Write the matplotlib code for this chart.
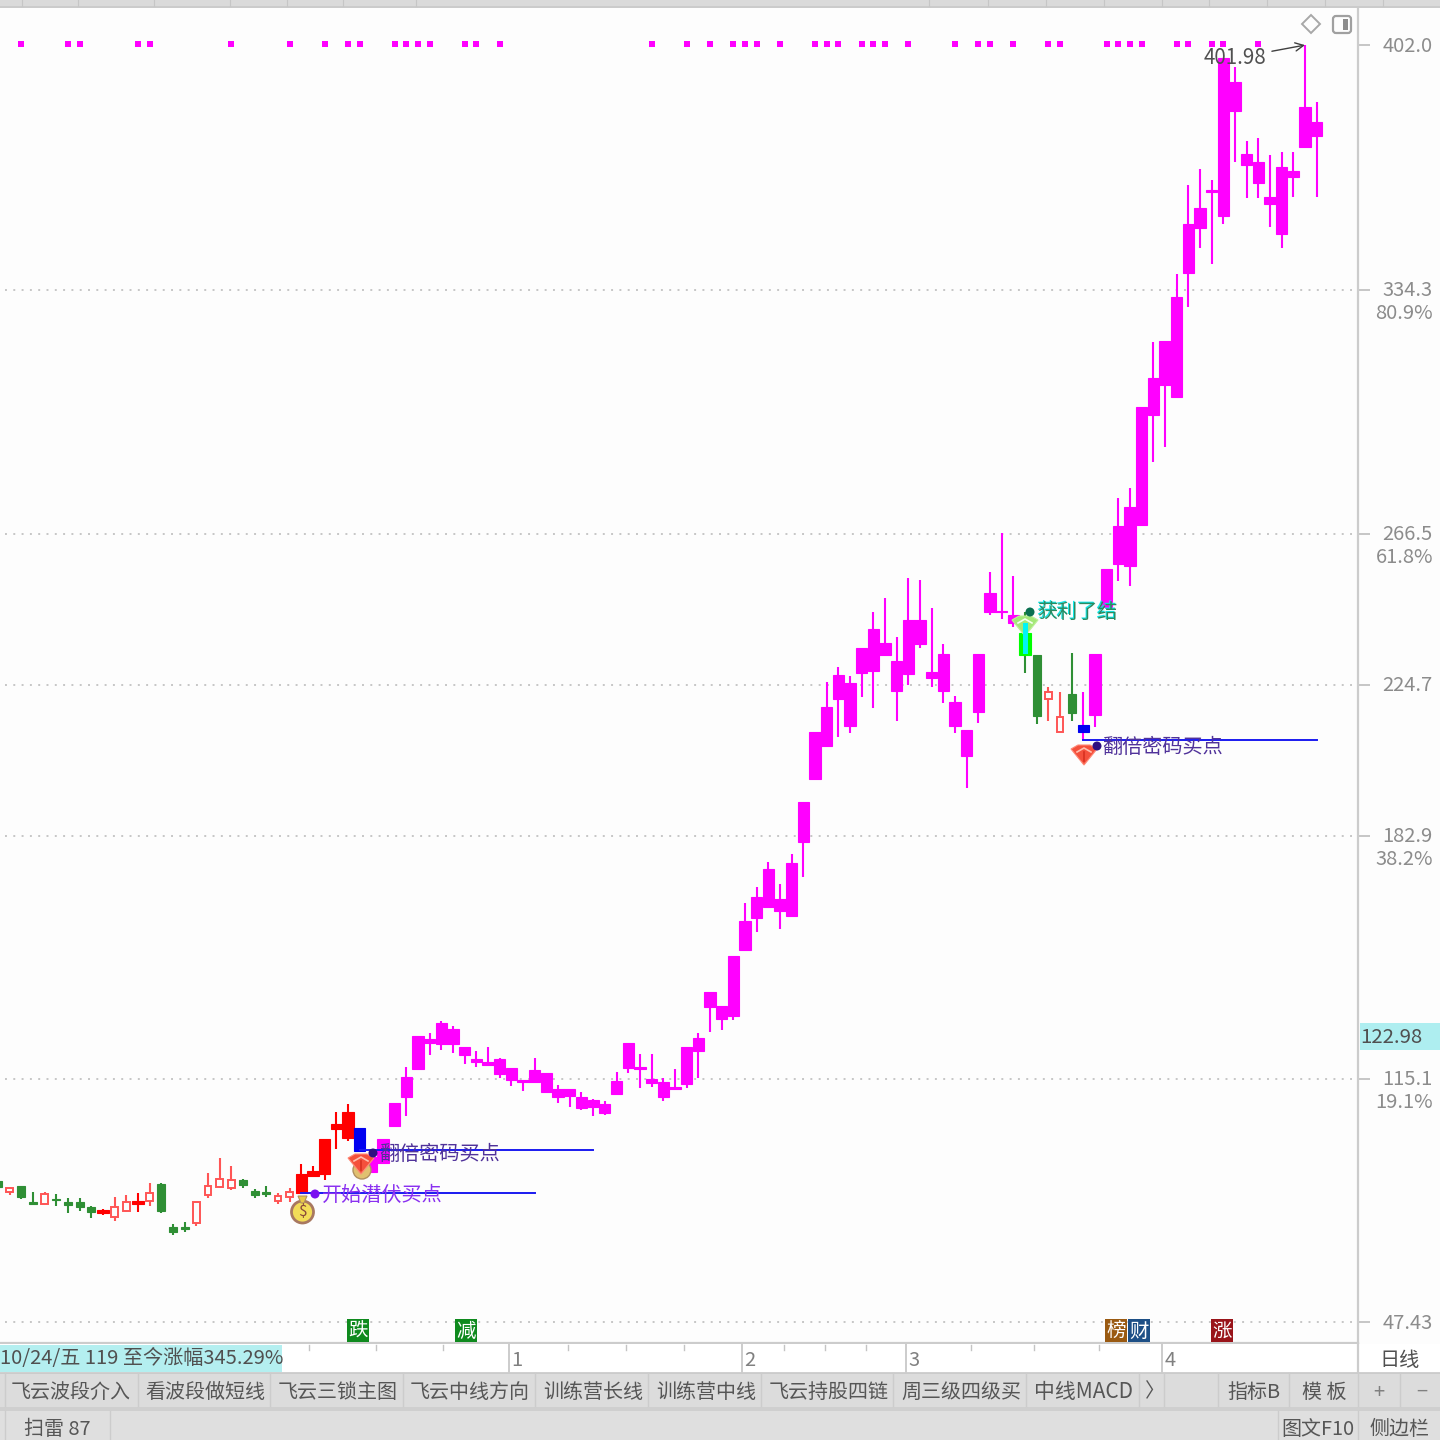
import matplotlib
matplotlib.use("Agg")
import matplotlib.pyplot as plt
from matplotlib.patches import Rectangle, Polygon, Circle, FancyBboxPatch
from matplotlib.transforms import ScaledTranslation

plt.rcParams['font.family'] = ['Noto Sans CJK SC', 'DejaVu Sans']

# ---- candles (price) ----
kinds = list("ghgghggggrhhrh" "ggg" "hhhh" "ggg" "hh" "rrrrr" "b") + ["m"] * 56 + list("lghhgb") + ["m"] * 20
body_hi = [86.6, 84.6, 85.2, 80.8, 83.0, 81.6, 80.8, 80.8, 79.4, 78.5,
           79.4, 80.8, 81.0, 83.3, 85.7, 73.8, 73.8, 80.8, 85.2, 87.1,
           86.9, 86.9, 83.8, 83.5, 82.4, 83.5, 88.5, 89.4, 98.3, 102.4,
           105.7, 101.3, 93.2, 98.3, 108.2, 115.5, 126.8, 126.0, 130.5, 128.8,
           123.8, 120.5, 119.6, 120.5, 118.0, 114.6, 117.4, 116.6, 112.1, 112.1,
           109.9, 109.1, 107.9, 114.3, 124.9, 118.2, 114.9, 114.1, 112.7, 123.8,
           126.3, 139.1, 135.2, 149.1, 158.8, 165.4, 173.2, 164.9, 174.9, 191.8,
           211.3, 218.2, 227.1, 224.9, 234.6, 239.9, 236.0, 231.0, 242.4, 242.4,
           227.9, 232.9, 219.6, 211.8, 232.9, 249.8, 244.9, 243.7, 238.7, 232.6,
           222.4, 215.4, 221.8, 213.2, 232.9, 256.5, 268.5, 273.7, 301.5, 309.5,
           319.8, 332.0, 352.3, 356.7, 361.7, 398.4, 391.7, 371.7, 369.5, 359.8,
           368.1, 367.0, 384.8, 380.6]
body_lo = [84.9, 83.5, 82.1, 80.3, 80.2, 81.3, 79.9, 79.4, 78.0, 77.7,
           76.6, 78.3, 80.2, 81.0, 78.3, 72.4, 73.3, 74.9, 82.7, 84.9,
           84.6, 85.5, 82.7, 83.0, 81.0, 82.1, 83.3, 88.0, 88.5, 101.0,
           98.5, 94.9, 89.1, 91.6, 101.9, 109.9, 117.7, 124.9, 124.6, 124.6,
           121.6, 119.6, 118.8, 116.3, 114.6, 114.1, 114.1, 111.3, 109.9, 110.2,
           106.8, 107.1, 105.5, 110.7, 118.0, 117.7, 113.8, 109.9, 112.1, 113.5,
           122.7, 134.9, 131.6, 132.4, 150.7, 159.6, 162.7, 161.5, 160.2, 180.7,
           198.2, 207.4, 220.4, 212.9, 227.6, 228.2, 232.6, 222.6, 227.4, 235.7,
           226.2, 222.6, 212.9, 204.6, 216.8, 244.6, 244.6, 241.5, 232.6, 215.7,
           220.4, 211.2, 216.5, 211.2, 216.0, 246.0, 257.9, 257.3, 268.7, 299.3,
           307.6, 304.3, 338.7, 351.2, 361.2, 354.5, 383.7, 368.7, 363.7, 357.9,
           349.5, 365.4, 373.7, 376.7]
wick_hi = [86.6, 84.9, 85.2, 83.5, 83.5, 83.0, 81.9, 81.9, 79.6, 78.8,
           82.1, 82.7, 83.3, 86.0, 86.0, 74.6, 75.2, 80.8, 88.8, 93.0,
           90.8, 87.1, 84.4, 85.2, 83.3, 84.6, 91.3, 90.8, 98.3, 105.7,
           108.0, 101.3, 93.2, 98.3, 108.2, 118.2, 126.8, 127.7, 131.0, 129.6,
           123.8, 122.7, 123.8, 120.7, 118.0, 114.6, 120.7, 116.6, 113.2, 112.1,
           111.3, 109.3, 108.8, 116.9, 124.9, 121.8, 121.8, 115.2, 117.7, 123.8,
           127.7, 139.1, 135.2, 149.1, 163.8, 168.2, 175.2, 169.0, 177.4, 191.8,
           211.3, 225.1, 229.3, 226.8, 234.6, 244.6, 248.5, 237.6, 254.0, 253.5,
           245.7, 235.7, 221.2, 211.8, 232.9, 255.7, 266.5, 254.6, 244.6, 232.6,
           223.7, 222.4, 233.2, 222.4, 232.9, 256.5, 276.2, 279.0, 301.5, 319.5,
           319.8, 338.4, 363.1, 367.6, 364.5, 398.4, 395.9, 375.4, 376.2, 371.5,
           372.3, 372.3, 401.98, 386.2]
wick_lo = [84.6, 82.7, 81.6, 80.2, 80.2, 79.6, 77.7, 78.3, 76.3, 77.1,
           75.5, 78.0, 78.0, 79.6, 77.7, 71.6, 72.4, 74.1, 81.9, 84.6,
           84.1, 84.6, 81.9, 82.1, 80.2, 80.8, 83.3, 87.7, 86.9, 95.5,
           97.7, 94.9, 89.1, 91.6, 101.9, 104.6, 117.7, 121.6, 122.9, 122.1,
           119.1, 118.2, 118.8, 115.2, 112.9, 111.6, 113.8, 111.3, 108.2, 107.1,
           106.3, 104.6, 104.9, 110.7, 116.6, 112.4, 112.7, 108.8, 111.9, 112.4,
           115.2, 128.0, 128.5, 131.3, 150.7, 155.7, 162.7, 156.6, 160.2, 171.0,
           198.2, 207.4, 209.9, 211.0, 221.0, 217.9, 232.6, 214.3, 224.3, 234.6,
           223.7, 219.3, 211.0, 195.7, 213.7, 243.7, 242.6, 240.4, 227.6, 213.5,
           214.3, 211.2, 214.3, 209.0, 212.6, 246.0, 253.2, 251.8, 268.7, 286.2,
           290.4, 304.3, 329.3, 345.6, 341.2, 352.3, 369.5, 359.5, 359.5, 351.5,
           345.6, 359.8, 373.7, 359.8]

# candles that carry a magenta dot along the top
dot_idx = [2, 6, 7, 12, 13, 20, 25, 28, 30, 31, 34, 35, 36, 37, 40, 41, 43, 56, 59, 61,
           63, 64, 65, 67, 70, 71, 72, 74, 75, 76, 78, 82, 84, 85, 87, 90, 91, 95, 96,
           97, 98, 101, 102, 104, 105, 108]
dot_price = 402.3

# signal lines: start candle, end candle, price
sig_start = [26, 31, 93]
sig_end = [46, 51, 113]
sig_price = [83.3, 95.2, 209.0]

# grid sits about a pixel under the printed value in the picture
tick_prices = [402.0, 334.0, 266.2, 224.4, 182.4, 114.8, 47.43]
tick_labels = ["402.0", "334.3", "266.5", "224.7", "182.9", "115.1", "47.43"]
grid_prices = [334.0, 266.2, 224.4, 182.4, 114.8, 47.43]
fib_prices = [334.0, 266.2, 182.4, 114.8]
fib_labels = ["80.9%", "61.8%", "38.2%", "19.1%"]

tab_labels = ["飞云波段介入", "看波段做短线", "飞云三锁主图", "飞云中线方向", "训练营长线", "训练营中线",
              "飞云持股四链", "周三级四级买", "中线MACD", "〉", "指标B", "模 板", "+", "−"]
tab_x = [71, 205, 338, 470, 593, 706, 829, 961, 1084, 1155, 1254, 1324, 1379, 1422]
tab_seps = [5, 138, 270, 403, 535, 648, 761, 893, 1026, 1139, 1164, 1218, 1289, 1358, 1400]

COL = {"m": "#ff00ff", "g": "#2f8f35", "r": "#ff0000", "h": "#ff5555", "b": "#0000f0", "l": "#00ff00"}
WICK = {"m": "#ff00ff", "g": "#2f8f35", "r": "#ff0000", "h": "#ff5555", "b": "#ff00ff", "l": "#2f8f35"}
WIDE = {"m": 0.97, "r": 0.97, "b": 0.97, "l": 0.97, "g": 0.68, "h": 0.58}

fig = plt.figure(figsize=(14.4, 14.4), dpi=100, facecolor="#fdfdfd")
ax = fig.add_axes([0, (1440 - 1343) / 1440, 1358 / 1440, (1343 - 8) / 1440], facecolor="#fdfdfd")
ax.set_xlim(0.171, 116.54)
ax.set_ylim(41.6, 412.28)

# grid
for p in grid_prices:
    ax.plot([0.6, 116.54], [p, p], color="#c6c6c6", lw=1.4, ls=(0, (1, 3.27)), zorder=1)

# candles
for i, k in enumerate(kinds):
    ax.vlines(i, wick_lo[i], wick_hi[i], color=WICK[k], lw=1.5, zorder=2)
    h = body_hi[i] - body_lo[i]
    if k == "h":
        ax.bar(i, h, WIDE[k], bottom=body_lo[i], facecolor="#fdfdfd", edgecolor=COL[k], lw=1.4, zorder=3)
    else:
        ax.bar(i, h, WIDE[k], bottom=body_lo[i], color=COL[k], edgecolor=COL[k], lw=0.8, zorder=3)

# top dots
ax.scatter(dot_idx, [dot_price] * len(dot_idx), marker="s", s=16, color="#ff00ff", lw=0, zorder=3)

# signal lines
for a, b, p in zip(sig_start, sig_end, sig_price):
    ax.plot([a, b], [p, p], color="#1a1af0", lw=1.4, zorder=5)

# axes
ax.yaxis.tick_right()
ax.set_yticks(tick_prices)
ax.set_yticklabels(tick_labels, fontsize=14.5, color="#8c8c8c")
ax.tick_params(axis="y", length=8.6, width=1.2, color="#bdbdbd", pad=9.0)
for lab, s in zip(ax.get_yticklabels(), tick_labels):
    px = 1 if s in ("402.0", "47.43") else 2
    lab.set_transform(lab.get_transform() + ScaledTranslation(0, px / 100, fig.dpi_scale_trans))
ax.set_xticks([])
for s in ["left", "top"]:
    ax.spines[s].set_visible(False)
for s in ["right", "bottom"]:
    ax.spines[s].set_color("#cccccc")
    ax.spines[s].set_linewidth(1.6)

# high marker
ax.annotate("401.98", xy=(112, 401.98), xytext=(-70, -13), textcoords="offset pixels",
            ha="center", va="center", fontsize=14.8, color="#505050", zorder=8,
            arrowprops=dict(arrowstyle="->", color="#404040", lw=1.0, shrinkA=2, shrinkB=0))

# ---- screen furniture, in screen pixels ----
ui = fig.add_axes([0, 0, 1, 1], facecolor="none")
ui.set_xlim(0, 1440)
ui.set_ylim(1440, 0)
ui.axis("off")


def box(x0, y0, x1, y1, col, z=1):
    ui.add_patch(Rectangle((x0, y0), x1 - x0, y1 - y0, facecolor=col, edgecolor="none", zorder=z))


def label(x, y, s, size=14.4, col="#565656", ha="center", z=6):
    ui.text(x, y + 2.2, s, fontsize=size, color=col, ha=ha, va="center", zorder=z)


# top strip
box(0, 0, 1440, 7, "#dadada")
box(0, 6, 1440, 8, "#cbcbcb")
for x in [22, 78, 154, 230, 287, 343, 416, 929, 988, 1046, 1104, 1162, 1209, 1267, 1325, 1383]:
    ui.plot([x, x], [0, 6], color="#c6c6c6", lw=0.8, zorder=2)

# right panel corner icons
ui.add_patch(Polygon([(1311, 15), (1320, 24), (1311, 33), (1302, 24)], closed=True, fill=False,
                     edgecolor="#a8a8a8", lw=1.4, zorder=6))
ui.add_patch(FancyBboxPatch((1333, 16), 18, 17, boxstyle="round,pad=0,rounding_size=3", fill=False,
                            edgecolor="#a0a0a0", lw=1.6, zorder=6))
box(1343, 19, 1348, 30, "#8c8c8c", z=6)

# percent labels beside the price ticks
for p, s in zip(fib_prices, fib_labels):
    label(1433, (414.5 - p) / 0.27766 + 21, s, size=14.5, col="#8c8c8c", ha="right")

# cursor price box
box(1360, 1023, 1440, 1050, "#aeeef0")
label(1360, 1035, "122.98", size=14.7, col="#505050", ha="left")

# bottom date row
box(0, 1344, 1440, 1372, "#ffffff")
box(0, 1345, 282, 1372, "#b4eff0", z=2)
label(0, 1356, "10/24/五 119 至今涨幅345.29%", size=14.5, col="#505050", ha="left")
for x in [309, 376, 443, 568, 626, 684, 784, 825, 866, 971, 1034, 1099]:
    ui.plot([x, x], [1345, 1350], color="#c4c4c4", lw=1.0, zorder=3)
for x, s in zip([509, 742, 906, 1162], ["1", "2", "3", "4"]):
    ui.plot([x, x], [1344, 1372], color="#cccccc", lw=1.4, zorder=3)
    label(x + 8, 1358, s, size=14.5, col="#808080")
ui.plot([1358, 1358], [1344, 1372], color="#cccccc", lw=1.6, zorder=3)
label(1400, 1358, "日线", size=14.5, col="#505050")

# tab row
box(0, 1373, 1440, 1407, "#dcdcdc")
box(0, 1407, 1440, 1411, "#cfcfcf")
ui.plot([0, 1440], [1372.5, 1372.5], color="#c8c8c8", lw=1.2, zorder=2)
for x in tab_seps:
    ui.plot([x, x], [1373, 1406], color="#cccccc", lw=1.0, zorder=2)
for x, s in zip(tab_x, tab_labels):
    label(x, 1390, s, size=15.0 if s == "中线MACD" else 14.4, col="#808080" if s in "+−" else "#565656")

# status row
box(0, 1411, 1440, 1440, "#dfdfdf")
for x in [5, 110, 1278, 1358]:
    ui.plot([x, x], [1411, 1440], color="#cccccc", lw=1.0, zorder=2)
label(57, 1427, "扫雷 87")
label(1318, 1427, "图文F10")
label(1400, 1427, "侧边栏")

# small event badges
for x, s, c in zip([358, 466, 1116, 1139, 1222], ["跌", "减", "榜", "财", "涨"],
                   ["#0f8a1e", "#0f8a1e", "#9a5a12", "#1d4f86", "#99141a"]):
    box(x - 11, 1319, x + 11, 1342, c, z=5)
    label(x, 1329, s, size=14, col="#ffffff", z=6)


def gem(x, y, face="#f4503c", rim="#ff8a78", shine="#ffc0b0", core="#d83020"):
    ui.add_patch(Polygon([(x - 13, y - 6), (x - 6, y - 10), (x + 6, y - 10), (x + 13, y - 6), (x, y + 10)],
                         closed=True, facecolor=face, edgecolor=rim, lw=0.8, zorder=6))
    ui.plot([x - 7, x, x + 7], [y - 3, y - 7, y - 3], color=shine, lw=1.2, zorder=7)
    ui.plot([x, x], [y - 3, y + 6], color=core, lw=1.2, zorder=7)


# stock bag under the first signal
ui.add_patch(Circle((302.5, 1212), 11, facecolor="#f2dc58", edgecolor="#a87860", lw=2, zorder=6))
ui.add_patch(Polygon([(298, 1196), (307, 1196), (304, 1203), (301, 1203)], closed=True, facecolor="#e8c848",
                     edgecolor="#b09060", lw=0.8, zorder=6))
label(302.5, 1209, "$", size=11, col="#8a4a3a", z=7)

# gem under the second signal, on a small gold bag
ui.add_patch(Circle((362, 1170), 9, facecolor="#e0c070", edgecolor="#b09060", lw=1, zorder=5))
gem(361, 1164)
gem(1084, 755)

# take-profit mark
gem(1025, 626, face="#a4e878", rim="#bdf09a", shine="#f4fff0", core="#a4e878")
box(1022.5, 623, 1027.5, 654, "#00f5f5", z=8)

# signal texts
ui.add_patch(Circle((315, 1194), 4.5, facecolor="#7a10f0", edgecolor="none", zorder=7))
ui.add_patch(Circle((373, 1153), 4.5, facecolor="#301080", edgecolor="none", zorder=7))
ui.add_patch(Circle((1097, 746), 4.5, facecolor="#301080", edgecolor="none", zorder=7))
ui.add_patch(Circle((1030, 612), 4.5, facecolor="#0a7050", edgecolor="none", zorder=7))
label(382, 1193, "开始潜伏买点", size=14.5, col="#8a30f0", z=7)
label(440, 1152, "翻倍密码买点", size=14.5, col="#50329a", z=7)
label(1163, 745, "翻倍密码买点", size=14.5, col="#50329a", z=7)
label(1076.5, 609.5, "获利了结", size=14.5, col="#10e8e8", z=7)
label(1077, 610.5, "获利了结", size=14.5, col="#2c8a60", z=8)

fig.savefig("out.png", dpi=100, facecolor=fig.get_facecolor())
